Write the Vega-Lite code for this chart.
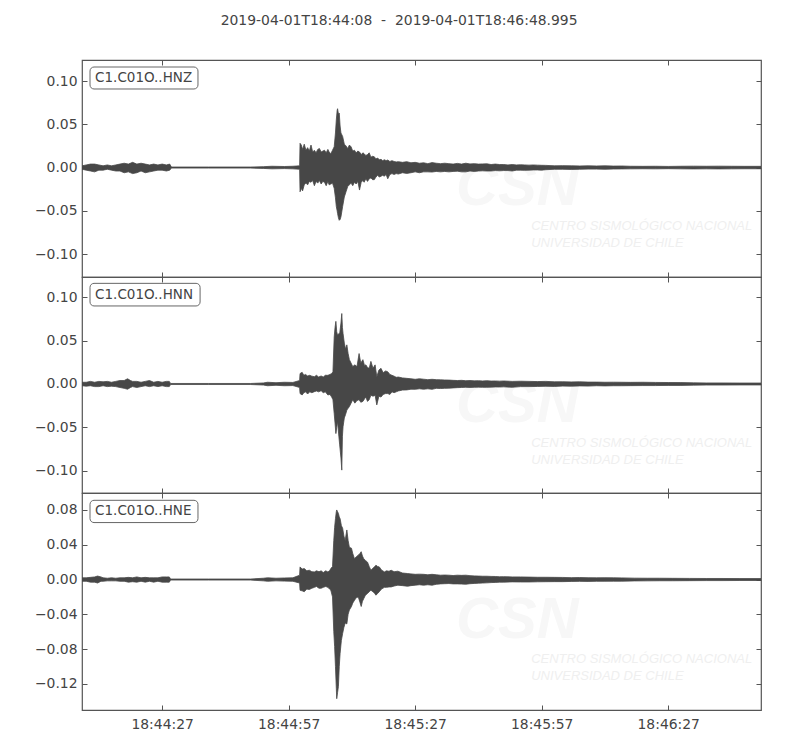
{
  "$schema": "https://vega.github.io/schema/vega-lite/v6.json",
  "title": {"text": "2019-04-01T18:44:08 \u00a0-\u00a0 2019-04-01T18:46:48.995", "frame": "bounds", "anchor": "middle", "fontSize": 13.9, "fontWeight": "normal", "color": "#444", "font": "DejaVu Sans", "offset": 31},
  "padding": {"left": 33, "top": 14, "right": 5, "bottom": 5},
  "datasets": {
    "z": [
      {"t":0,"hi":0.002,"lo":-0.002},{"t":1,"hi":0.003,"lo":-0.003},{"t":2,"hi":0.004,"lo":-0.004},{"t":3,"hi":0.004,"lo":-0.005},{"t":4,"hi":0.003,"lo":-0.003},{"t":5,"hi":0.002,"lo":-0.003},{"t":6,"hi":0.003,"lo":-0.002},{"t":7,"hi":0.002,"lo":-0.003},{"t":8,"hi":0.003,"lo":-0.004},{"t":9,"hi":0.004,"lo":-0.004},{"t":10,"hi":0.005,"lo":-0.006},{"t":11,"hi":0.004,"lo":-0.005},{"t":12,"hi":0.006,"lo":-0.007},{"t":13,"hi":0.004,"lo":-0.006},{"t":14,"hi":0.005,"lo":-0.004},{"t":15,"hi":0.004,"lo":-0.006},{"t":16,"hi":0.003,"lo":-0.005},{"t":17,"hi":0.004,"lo":-0.004},{"t":18,"hi":0.003,"lo":-0.003},{"t":19,"hi":0.004,"lo":-0.003},{"t":20,"hi":0.003,"lo":-0.004},{"t":20.8,"hi":0.004,"lo":-0.003},
      {"t":21.2,"hi":0.0006,"lo":-0.0006},{"t":30,"hi":0.0006,"lo":-0.0006},{"t":40,"hi":0.0006,"lo":-0.0006},{"t":43,"hi":0.001,"lo":-0.001},{"t":45,"hi":0.0015,"lo":-0.0015},{"t":48,"hi":0.0012,"lo":-0.0012},{"t":50,"hi":0.0015,"lo":-0.0015},{"t":51.6,"hi":0.002,"lo":-0.002},
      {"t":51.7,"hi":0.028,"lo":-0.028},{"t":52.0,"hi":0.026,"lo":-0.024},{"t":52.3,"hi":0.021,"lo":-0.027},{"t":52.7,"hi":0.027,"lo":-0.020},{"t":53.1,"hi":0.020,"lo":-0.018},{"t":53.5,"hi":0.023,"lo":-0.020},{"t":53.9,"hi":0.019,"lo":-0.016},{"t":54.3,"hi":0.026,"lo":-0.017},{"t":54.7,"hi":0.018,"lo":-0.015},{"t":55.1,"hi":0.020,"lo":-0.021},{"t":55.5,"hi":0.017,"lo":-0.016},{"t":55.9,"hi":0.021,"lo":-0.018},{"t":56.3,"hi":0.022,"lo":-0.015},{"t":56.7,"hi":0.018,"lo":-0.019},{"t":57.1,"hi":0.019,"lo":-0.016},{"t":57.5,"hi":0.020,"lo":-0.017},{"t":57.9,"hi":0.017,"lo":-0.021},{"t":58.3,"hi":0.021,"lo":-0.016},{"t":58.6,"hi":0.018,"lo":-0.020},{"t":59.0,"hi":0.016,"lo":-0.019},{"t":59.4,"hi":0.020,"lo":-0.018},{"t":59.8,"hi":0.024,"lo":-0.024},
      {"t":60.1,"hi":0.040,"lo":-0.035},{"t":60.3,"hi":0.055,"lo":-0.045},{"t":60.5,"hi":0.066,"lo":-0.050},{"t":60.6,"hi":0.068,"lo":-0.053},{"t":60.8,"hi":0.062,"lo":-0.058},{"t":61.0,"hi":0.063,"lo":-0.061},{"t":61.2,"hi":0.048,"lo":-0.060},{"t":61.4,"hi":0.040,"lo":-0.057},{"t":61.8,"hi":0.036,"lo":-0.045},{"t":62.2,"hi":0.027,"lo":-0.034},{"t":62.6,"hi":0.025,"lo":-0.028},{"t":63.0,"hi":0.022,"lo":-0.022},{"t":63.4,"hi":0.026,"lo":-0.020},{"t":63.8,"hi":0.024,"lo":-0.018},{"t":64.2,"hi":0.019,"lo":-0.021},{"t":64.6,"hi":0.020,"lo":-0.017},{"t":65.0,"hi":0.017,"lo":-0.019},{"t":65.4,"hi":0.019,"lo":-0.016},{"t":65.8,"hi":0.018,"lo":-0.026},{"t":66.2,"hi":0.015,"lo":-0.017},{"t":66.6,"hi":0.017,"lo":-0.015},{"t":66.9,"hi":0.016,"lo":-0.017},{"t":67.3,"hi":0.014,"lo":-0.013},{"t":67.7,"hi":0.015,"lo":-0.016},{"t":68.1,"hi":0.017,"lo":-0.013},{"t":68.5,"hi":0.012,"lo":-0.012},{"t":68.9,"hi":0.013,"lo":-0.014},{"t":69.3,"hi":0.0125,"lo":-0.014},{"t":69.7,"hi":0.010,"lo":-0.011},{"t":70.1,"hi":0.011,"lo":-0.009},{"t":70.5,"hi":0.009,"lo":-0.011},{"t":70.9,"hi":0.0095,"lo":-0.010},{"t":71.3,"hi":0.008,"lo":-0.009},{"t":71.7,"hi":0.009,"lo":-0.010},{"t":72.1,"hi":0.008,"lo":-0.008},{"t":72.5,"hi":0.0087,"lo":-0.013},{"t":73.0,"hi":0.007,"lo":-0.008},{"t":73.5,"hi":0.008,"lo":-0.007},{"t":74.0,"hi":0.007,"lo":-0.008},{"t":74.5,"hi":0.0065,"lo":-0.007},{"t":75,"hi":0.0068,"lo":-0.0075},
      {"t":76,"hi":0.006,"lo":-0.006},{"t":77,"hi":0.0068,"lo":-0.0068},{"t":78,"hi":0.0055,"lo":-0.006},{"t":79,"hi":0.006,"lo":-0.005},{"t":80,"hi":0.005,"lo":-0.006},{"t":81,"hi":0.0055,"lo":-0.005},{"t":82,"hi":0.0045,"lo":-0.005},{"t":83,"hi":0.0057,"lo":-0.0052},{"t":84,"hi":0.005,"lo":-0.0045},{"t":85,"hi":0.0045,"lo":-0.005},{"t":86,"hi":0.005,"lo":-0.0045},{"t":87,"hi":0.0045,"lo":-0.005},{"t":88,"hi":0.004,"lo":-0.0045},{"t":89,"hi":0.0048,"lo":-0.0042},{"t":90,"hi":0.004,"lo":-0.005},{"t":91,"hi":0.005,"lo":-0.005},{"t":92,"hi":0.0042,"lo":-0.004},{"t":93,"hi":0.0045,"lo":-0.0045},{"t":94,"hi":0.004,"lo":-0.004},{"t":95,"hi":0.0042,"lo":-0.0038},{"t":96,"hi":0.0043,"lo":-0.004},{"t":97,"hi":0.0035,"lo":-0.004},{"t":98,"hi":0.004,"lo":-0.0035},{"t":99,"hi":0.0035,"lo":-0.0038},{"t":100,"hi":0.0035,"lo":-0.0035},{"t":101,"hi":0.003,"lo":-0.0035},{"t":102,"hi":0.0035,"lo":-0.004},{"t":103,"hi":0.003,"lo":-0.003},{"t":104,"hi":0.0032,"lo":-0.003},{"t":105,"hi":0.003,"lo":-0.0032},{"t":106,"hi":0.0028,"lo":-0.003},{"t":107,"hi":0.003,"lo":-0.0028},{"t":108,"hi":0.0028,"lo":-0.0028},{"t":109,"hi":0.0026,"lo":-0.003},{"t":110,"hi":0.0025,"lo":-0.0025},
      {"t":112,"hi":0.002,"lo":-0.002},{"t":114,"hi":0.0022,"lo":-0.002},{"t":116,"hi":0.002,"lo":-0.0022},{"t":118,"hi":0.0018,"lo":-0.002},{"t":120,"hi":0.002,"lo":-0.0018},{"t":122,"hi":0.0018,"lo":-0.0018},{"t":124,"hi":0.002,"lo":-0.002},{"t":126,"hi":0.0017,"lo":-0.0017},{"t":128,"hi":0.0018,"lo":-0.0016},{"t":130,"hi":0.0015,"lo":-0.0015},{"t":133,"hi":0.0014,"lo":-0.0014},{"t":136,"hi":0.0015,"lo":-0.0015},{"t":139,"hi":0.0013,"lo":-0.0013},{"t":142,"hi":0.0015,"lo":-0.0015},{"t":145,"hi":0.0016,"lo":-0.0016},{"t":148,"hi":0.0015,"lo":-0.0015},{"t":151,"hi":0.0016,"lo":-0.0016},{"t":154,"hi":0.0015,"lo":-0.0015},{"t":157,"hi":0.0014,"lo":-0.0014},{"t":161,"hi":0.0014,"lo":-0.0014}
    ],
    "n": [
      {"t":0,"hi":0.002,"lo":-0.002},{"t":1,"hi":0.002,"lo":-0.0025},{"t":2,"hi":0.003,"lo":-0.002},{"t":3,"hi":0.002,"lo":-0.003},{"t":4,"hi":0.003,"lo":-0.003},{"t":5,"hi":0.0025,"lo":-0.002},{"t":6,"hi":0.003,"lo":-0.003},{"t":7,"hi":0.002,"lo":-0.0025},{"t":8,"hi":0.003,"lo":-0.003},{"t":9,"hi":0.004,"lo":-0.004},{"t":10,"hi":0.004,"lo":-0.005},{"t":10.8,"hi":0.006,"lo":-0.006},{"t":11.5,"hi":0.004,"lo":-0.004},{"t":12,"hi":0.003,"lo":-0.003},{"t":13,"hi":0.003,"lo":-0.004},{"t":14,"hi":0.002,"lo":-0.003},{"t":15,"hi":0.003,"lo":-0.002},{"t":16,"hi":0.004,"lo":-0.003},{"t":17,"hi":0.002,"lo":-0.002},{"t":18,"hi":0.003,"lo":-0.003},{"t":19,"hi":0.002,"lo":-0.002},{"t":20,"hi":0.003,"lo":-0.003},{"t":20.7,"hi":0.003,"lo":-0.003},
      {"t":21,"hi":0.0006,"lo":-0.0006},{"t":30,"hi":0.0006,"lo":-0.0006},{"t":40,"hi":0.0006,"lo":-0.0006},{"t":43,"hi":0.0012,"lo":-0.0012},{"t":44,"hi":0.002,"lo":-0.002},{"t":46,"hi":0.0015,"lo":-0.0015},{"t":48,"hi":0.002,"lo":-0.002},{"t":50,"hi":0.0018,"lo":-0.0018},{"t":51.6,"hi":0.004,"lo":-0.004},
      {"t":51.7,"hi":0.012,"lo":-0.011},{"t":52.2,"hi":0.0134,"lo":-0.0126},{"t":52.6,"hi":0.010,"lo":-0.010},{"t":53.0,"hi":0.011,"lo":-0.009},{"t":53.5,"hi":0.0092,"lo":-0.0115},{"t":54.0,"hi":0.010,"lo":-0.009},{"t":54.5,"hi":0.009,"lo":-0.010},{"t":55.1,"hi":0.0084,"lo":-0.0088},{"t":55.6,"hi":0.010,"lo":-0.008},{"t":56.1,"hi":0.008,"lo":-0.009},{"t":56.7,"hi":0.0092,"lo":-0.0077},{"t":57.2,"hi":0.008,"lo":-0.010},{"t":57.7,"hi":0.010,"lo":-0.009},{"t":58.3,"hi":0.010,"lo":-0.0126},{"t":58.8,"hi":0.011,"lo":-0.012},{"t":59.2,"hi":0.012,"lo":-0.015},{"t":59.5,"hi":0.014,"lo":-0.018},
      {"t":59.8,"hi":0.054,"lo":-0.034},{"t":60.0,"hi":0.065,"lo":-0.045},{"t":60.2,"hi":0.072,"lo":-0.057},{"t":60.4,"hi":0.060,"lo":-0.050},{"t":60.6,"hi":0.056,"lo":-0.043},{"t":60.9,"hi":0.058,"lo":-0.060},{"t":61.1,"hi":0.058,"lo":-0.070},{"t":61.4,"hi":0.070,"lo":-0.085},{"t":61.6,"hi":0.081,"lo":-0.099},{"t":61.75,"hi":0.065,"lo":-0.060},{"t":61.9,"hi":0.058,"lo":-0.049},{"t":62.2,"hi":0.047,"lo":-0.039},{"t":62.5,"hi":0.040,"lo":-0.035},{"t":62.8,"hi":0.045,"lo":-0.030},{"t":63.1,"hi":0.035,"lo":-0.028},{"t":63.4,"hi":0.028,"lo":-0.026},{"t":63.8,"hi":0.024,"lo":-0.022},{"t":64.2,"hi":0.020,"lo":-0.018},{"t":64.7,"hi":0.022,"lo":-0.022},{"t":65.2,"hi":0.020,"lo":-0.019},{"t":65.7,"hi":0.035,"lo":-0.018},{"t":66.1,"hi":0.024,"lo":-0.021},{"t":66.6,"hi":0.028,"lo":-0.020},{"t":67.0,"hi":0.021,"lo":-0.017},{"t":67.3,"hi":0.022,"lo":-0.015},{"t":67.7,"hi":0.019,"lo":-0.020},{"t":68.1,"hi":0.018,"lo":-0.018},{"t":68.5,"hi":0.026,"lo":-0.013},{"t":69.0,"hi":0.018,"lo":-0.014},{"t":69.5,"hi":0.022,"lo":-0.013},{"t":69.9,"hi":0.0084,"lo":-0.024},{"t":70.4,"hi":0.016,"lo":-0.014},{"t":70.9,"hi":0.018,"lo":-0.015},{"t":71.4,"hi":0.013,"lo":-0.012},{"t":72.0,"hi":0.015,"lo":-0.011},{"t":72.5,"hi":0.014,"lo":-0.011},{"t":73.0,"hi":0.011,"lo":-0.012},{"t":73.5,"hi":0.010,"lo":-0.009},{"t":74.0,"hi":0.009,"lo":-0.010},{"t":74.5,"hi":0.0077,"lo":-0.009},{"t":75,"hi":0.008,"lo":-0.008},
      {"t":76,"hi":0.007,"lo":-0.007},{"t":77,"hi":0.0065,"lo":-0.0068},{"t":78,"hi":0.006,"lo":-0.006},{"t":79,"hi":0.0054,"lo":-0.0061},{"t":80,"hi":0.006,"lo":-0.0055},{"t":81,"hi":0.0055,"lo":-0.006},{"t":82,"hi":0.005,"lo":-0.0055},{"t":83,"hi":0.0054,"lo":-0.0061},{"t":84,"hi":0.005,"lo":-0.005},{"t":85,"hi":0.0048,"lo":-0.0052},{"t":86,"hi":0.0046,"lo":-0.005},{"t":87,"hi":0.0045,"lo":-0.0048},{"t":88,"hi":0.0042,"lo":-0.0045},{"t":89,"hi":0.004,"lo":-0.0042},{"t":90,"hi":0.0042,"lo":-0.004},{"t":91,"hi":0.0038,"lo":-0.0038},{"t":92,"hi":0.004,"lo":-0.004},{"t":93,"hi":0.0036,"lo":-0.0038},{"t":94,"hi":0.0038,"lo":-0.0036},{"t":95,"hi":0.0035,"lo":-0.0038},{"t":96,"hi":0.0038,"lo":-0.0038},{"t":97,"hi":0.0034,"lo":-0.0036},{"t":98,"hi":0.0035,"lo":-0.0034},{"t":99,"hi":0.0033,"lo":-0.0035},{"t":100,"hi":0.0035,"lo":-0.0033},
      {"t":102,"hi":0.003,"lo":-0.0038},{"t":104,"hi":0.0032,"lo":-0.003},{"t":106,"hi":0.003,"lo":-0.003},{"t":108,"hi":0.0028,"lo":-0.0028},{"t":110,"hi":0.003,"lo":-0.0026},{"t":112,"hi":0.0025,"lo":-0.0028},{"t":114,"hi":0.0026,"lo":-0.0024},{"t":116,"hi":0.0024,"lo":-0.0025},{"t":118,"hi":0.0025,"lo":-0.0022},{"t":120,"hi":0.0022,"lo":-0.0024},{"t":122,"hi":0.0022,"lo":-0.002},{"t":124,"hi":0.002,"lo":-0.0022},{"t":126,"hi":0.0021,"lo":-0.002},{"t":128,"hi":0.002,"lo":-0.002},{"t":130,"hi":0.0019,"lo":-0.0019},{"t":133,"hi":0.002,"lo":-0.0018},{"t":136,"hi":0.0018,"lo":-0.0018},{"t":139,"hi":0.0017,"lo":-0.0016},{"t":142,"hi":0.0016,"lo":-0.0016},{"t":145,"hi":0.0013,"lo":-0.0013},{"t":148,"hi":0.0012,"lo":-0.0012},{"t":152,"hi":0.0012,"lo":-0.0012},{"t":156,"hi":0.0011,"lo":-0.0011},{"t":161,"hi":0.0011,"lo":-0.0011}
    ],
    "e": [
      {"t":0,"hi":0.002,"lo":-0.002},{"t":1,"hi":0.002,"lo":-0.002},{"t":2,"hi":0.0025,"lo":-0.003},{"t":3,"hi":0.003,"lo":-0.003},{"t":3.7,"hi":0.004,"lo":-0.004},{"t":4.5,"hi":0.003,"lo":-0.002},{"t":5,"hi":0.002,"lo":-0.002},{"t":6,"hi":0.0015,"lo":-0.0015},{"t":7,"hi":0.002,"lo":-0.0015},{"t":8,"hi":0.0015,"lo":-0.0015},{"t":9,"hi":0.002,"lo":-0.002},{"t":10,"hi":0.002,"lo":-0.002},{"t":11,"hi":0.0025,"lo":-0.003},{"t":12,"hi":0.002,"lo":-0.0025},{"t":13,"hi":0.003,"lo":-0.003},{"t":14,"hi":0.002,"lo":-0.002},{"t":15,"hi":0.0025,"lo":-0.003},{"t":16,"hi":0.002,"lo":-0.002},{"t":17,"hi":0.002,"lo":-0.003},{"t":18,"hi":0.002,"lo":-0.002},{"t":19,"hi":0.003,"lo":-0.003},{"t":20,"hi":0.003,"lo":-0.003},{"t":20.7,"hi":0.003,"lo":-0.003},
      {"t":21,"hi":0.0006,"lo":-0.0006},{"t":30,"hi":0.0006,"lo":-0.0006},{"t":40,"hi":0.0006,"lo":-0.0006},{"t":43,"hi":0.0015,"lo":-0.0015},{"t":44,"hi":0.002,"lo":-0.002},{"t":46,"hi":0.0015,"lo":-0.0015},{"t":48,"hi":0.0018,"lo":-0.0018},{"t":50,"hi":0.002,"lo":-0.002},{"t":51.6,"hi":0.005,"lo":-0.004},
      {"t":51.7,"hi":0.0145,"lo":-0.0123},{"t":52.2,"hi":0.012,"lo":-0.013},{"t":52.7,"hi":0.0126,"lo":-0.014},{"t":53.3,"hi":0.010,"lo":-0.011},{"t":53.9,"hi":0.0107,"lo":-0.0115},{"t":54.5,"hi":0.009,"lo":-0.010},{"t":55.1,"hi":0.0088,"lo":-0.009},{"t":55.6,"hi":0.010,"lo":-0.008},{"t":56.2,"hi":0.009,"lo":-0.010},{"t":56.7,"hi":0.010,"lo":-0.010},{"t":57.2,"hi":0.008,"lo":-0.009},{"t":57.8,"hi":0.010,"lo":-0.008},{"t":58.3,"hi":0.0088,"lo":-0.009},{"t":58.7,"hi":0.010,"lo":-0.011},{"t":59.0,"hi":0.0126,"lo":-0.0123},{"t":59.4,"hi":0.015,"lo":-0.020},
      {"t":59.7,"hi":0.045,"lo":-0.060},{"t":59.9,"hi":0.060,"lo":-0.077},{"t":60.1,"hi":0.070,"lo":-0.100},{"t":60.3,"hi":0.078,"lo":-0.125},{"t":60.4,"hi":0.080,"lo":-0.137},{"t":60.6,"hi":0.078,"lo":-0.130},{"t":60.8,"hi":0.076,"lo":-0.123},{"t":61.0,"hi":0.072,"lo":-0.100},{"t":61.2,"hi":0.070,"lo":-0.085},{"t":61.5,"hi":0.062,"lo":-0.070},{"t":61.8,"hi":0.059,"lo":-0.062},{"t":62.1,"hi":0.050,"lo":-0.055},{"t":62.4,"hi":0.045,"lo":-0.050},{"t":62.8,"hi":0.057,"lo":-0.051},{"t":63.1,"hi":0.045,"lo":-0.040},{"t":63.4,"hi":0.037,"lo":-0.035},{"t":63.9,"hi":0.036,"lo":-0.031},{"t":64.2,"hi":0.030,"lo":-0.027},{"t":64.6,"hi":0.024,"lo":-0.024},{"t":65.0,"hi":0.026,"lo":-0.021},{"t":65.5,"hi":0.028,"lo":-0.020},{"t":65.9,"hi":0.030,"lo":-0.026},{"t":66.2,"hi":0.032,"lo":-0.031},{"t":66.5,"hi":0.027,"lo":-0.025},{"t":66.8,"hi":0.024,"lo":-0.022},{"t":67.2,"hi":0.022,"lo":-0.018},{"t":67.7,"hi":0.020,"lo":-0.016},{"t":68.1,"hi":0.015,"lo":-0.014},{"t":68.5,"hi":0.0107,"lo":-0.0123},{"t":69.0,"hi":0.013,"lo":-0.014},{"t":69.4,"hi":0.015,"lo":-0.016},{"t":69.7,"hi":0.0165,"lo":-0.018},{"t":70.1,"hi":0.015,"lo":-0.016},{"t":70.5,"hi":0.0145,"lo":-0.014},{"t":71.0,"hi":0.011,"lo":-0.011},{"t":71.7,"hi":0.0088,"lo":-0.009},{"t":72.2,"hi":0.010,"lo":-0.009},{"t":72.8,"hi":0.0095,"lo":-0.0085},{"t":73.3,"hi":0.0107,"lo":-0.0085},{"t":74.0,"hi":0.009,"lo":-0.0075},{"t":74.9,"hi":0.0096,"lo":-0.0065},
      {"t":76,"hi":0.0075,"lo":-0.007},{"t":77.2,"hi":0.0069,"lo":-0.0077},{"t":78,"hi":0.0065,"lo":-0.007},{"t":79,"hi":0.006,"lo":-0.0065},{"t":80,"hi":0.0062,"lo":-0.006},{"t":81,"hi":0.006,"lo":-0.0065},{"t":82,"hi":0.0055,"lo":-0.006},{"t":83,"hi":0.006,"lo":-0.0065},{"t":84,"hi":0.0055,"lo":-0.0055},{"t":85,"hi":0.005,"lo":-0.005},{"t":86,"hi":0.0052,"lo":-0.0048},{"t":87,"hi":0.005,"lo":-0.0046},{"t":88,"hi":0.0046,"lo":-0.005},{"t":89,"hi":0.005,"lo":-0.005},{"t":90,"hi":0.0048,"lo":-0.0052},{"t":91,"hi":0.005,"lo":-0.0054},{"t":92,"hi":0.0045,"lo":-0.0048},{"t":93,"hi":0.0042,"lo":-0.0045},{"t":94,"hi":0.004,"lo":-0.0042},{"t":95,"hi":0.0038,"lo":-0.004},{"t":96,"hi":0.0038,"lo":-0.0038},{"t":97,"hi":0.0036,"lo":-0.0035},{"t":98,"hi":0.0035,"lo":-0.0033},{"t":99,"hi":0.0032,"lo":-0.003},{"t":100,"hi":0.0033,"lo":-0.003},
      {"t":102,"hi":0.003,"lo":-0.0027},{"t":104,"hi":0.003,"lo":-0.0028},{"t":106,"hi":0.0028,"lo":-0.0028},{"t":108,"hi":0.0026,"lo":-0.0026},{"t":110,"hi":0.0026,"lo":-0.0025},{"t":112,"hi":0.0025,"lo":-0.0024},{"t":114,"hi":0.0024,"lo":-0.0024},{"t":116,"hi":0.0022,"lo":-0.0022},{"t":118,"hi":0.0023,"lo":-0.0021},{"t":120,"hi":0.0021,"lo":-0.0022},{"t":122,"hi":0.002,"lo":-0.002},{"t":124,"hi":0.0021,"lo":-0.002},{"t":126,"hi":0.002,"lo":-0.0019},{"t":128,"hi":0.0019,"lo":-0.0019},{"t":131,"hi":0.0016,"lo":-0.0016},{"t":134,"hi":0.0015,"lo":-0.0015},{"t":137,"hi":0.0015,"lo":-0.0014},{"t":140,"hi":0.0014,"lo":-0.0014},{"t":144,"hi":0.0013,"lo":-0.0013},{"t":148,"hi":0.0012,"lo":-0.0012},{"t":152,"hi":0.0012,"lo":-0.0012},{"t":156,"hi":0.0011,"lo":-0.0011},{"t":161,"hi":0.0011,"lo":-0.0011}
    ]
  },
  "spacing": 0,
  "bounds": "flush",
  "vconcat": [
    {
      "width": 679, "height": 217,
      "layer": [
        {"data": {"values": [{}]}, "mark": {"type": "text", "text": "CSN", "font": "Liberation Sans", "fontSize": 58, "fontStyle": "italic", "fontWeight": "bold", "align": "left", "baseline": "alphabetic", "color": "#f7f7f7"},
         "encoding": {"x": {"datum": 88.7, "type": "quantitative", "axis": null}, "y": {"datum": -0.0434, "type": "quantitative", "axis": null}}},
        {"data": {"values": [{}]}, "mark": {"type": "text", "text": "CENTRO SISMOLÓGICO NACIONAL", "font": "Liberation Sans", "fontSize": 13, "fontStyle": "italic", "align": "left", "baseline": "alphabetic", "color": "#efefef"},
         "encoding": {"x": {"datum": 106.5, "type": "quantitative", "axis": null}, "y": {"datum": -0.0723, "type": "quantitative", "axis": null}}},
        {"data": {"values": [{}]}, "mark": {"type": "text", "text": "UNIVERSIDAD DE CHILE", "font": "Liberation Sans", "fontSize": 13, "fontStyle": "italic", "align": "left", "baseline": "alphabetic", "color": "#efefef"},
         "encoding": {"x": {"datum": 106.5, "type": "quantitative", "axis": null}, "y": {"datum": -0.0919, "type": "quantitative", "axis": null}}},
        {"data": {"name": "z"}, "mark": {"type": "area", "color": "#474747", "stroke": "#474747", "strokeWidth": 0.8, "clip": true},
         "encoding": {
           "x": {"field": "t", "type": "quantitative", "title": null, "scale": {"domain": [0, 161], "nice": false, "zero": false}, "axis": {"orient": "bottom", "values": [19, 49, 79, 109, 139], "labels": false}},
           "y": {"field": "hi", "type": "quantitative", "title": null, "scale": {"domain": [-0.1265, 0.1243], "nice": false, "zero": false}, "axis": {"orient": "left", "values": [-0.1, -0.05, 0, 0.05, 0.1], "format": ".2f"}},
           "y2": {"field": "lo"}
         }},
        {"data": {"values": [{}]}, "mark": {"type": "rect", "fill": "white", "stroke": "#666", "strokeWidth": 1, "cornerRadius": 4},
         "encoding": {"x": {"datum": 1.9, "type": "quantitative", "axis": null}, "x2": {"datum": 27.5}, "y": {"datum": 0.1162, "type": "quantitative", "axis": null}, "y2": {"datum": 0.0908}}},
        {"data": {"values": [{}]}, "mark": {"type": "text", "text": "C1.C01O..HNZ", "font": "DejaVu Sans", "fontSize": 13.5, "align": "left", "baseline": "middle", "color": "#444"},
         "encoding": {"x": {"datum": 3.1, "type": "quantitative", "axis": null}, "y": {"datum": 0.1035, "type": "quantitative", "axis": null}}},
        {"data": {"name": "z"}, "mark": {"type": "point", "opacity": 0},
         "encoding": {
           "x": {"field": "t", "type": "quantitative", "title": null, "axis": {"orient": "top", "values": [19, 49, 79, 109, 139], "labels": false}},
           "y": {"field": "hi", "type": "quantitative", "title": null, "axis": {"orient": "right", "values": [-0.1, -0.05, 0, 0.05, 0.1], "labels": false}}
         }}
      ],
      "resolve": {"axis": {"x": "independent", "y": "independent"}}
    },
    {
      "width": 679, "height": 216,
      "layer": [
        {"data": {"values": [{}]}, "mark": {"type": "text", "text": "CSN", "font": "Liberation Sans", "fontSize": 58, "fontStyle": "italic", "fontWeight": "bold", "align": "left", "baseline": "alphabetic", "color": "#f7f7f7"},
         "encoding": {"x": {"datum": 88.7, "type": "quantitative", "axis": null}, "y": {"datum": -0.0437, "type": "quantitative", "axis": null}}},
        {"data": {"values": [{}]}, "mark": {"type": "text", "text": "CENTRO SISMOLÓGICO NACIONAL", "font": "Liberation Sans", "fontSize": 13, "fontStyle": "italic", "align": "left", "baseline": "alphabetic", "color": "#efefef"},
         "encoding": {"x": {"datum": 106.5, "type": "quantitative", "axis": null}, "y": {"datum": -0.0724, "type": "quantitative", "axis": null}}},
        {"data": {"values": [{}]}, "mark": {"type": "text", "text": "UNIVERSIDAD DE CHILE", "font": "Liberation Sans", "fontSize": 13, "fontStyle": "italic", "align": "left", "baseline": "alphabetic", "color": "#efefef"},
         "encoding": {"x": {"datum": 106.5, "type": "quantitative", "axis": null}, "y": {"datum": -0.092, "type": "quantitative", "axis": null}}},
        {"data": {"name": "n"}, "mark": {"type": "area", "color": "#474747", "stroke": "#474747", "strokeWidth": 0.8, "clip": true},
         "encoding": {
           "x": {"field": "t", "type": "quantitative", "title": null, "scale": {"domain": [0, 161], "nice": false, "zero": false}, "axis": {"orient": "bottom", "values": [19, 49, 79, 109, 139], "labels": false}},
           "y": {"field": "hi", "type": "quantitative", "title": null, "scale": {"domain": [-0.1253, 0.123], "nice": false, "zero": false}, "axis": {"orient": "left", "values": [-0.1, -0.05, 0, 0.05, 0.1], "format": ".2f"}},
           "y2": {"field": "lo"}
         }},
        {"data": {"values": [{}]}, "mark": {"type": "rect", "fill": "white", "stroke": "#666", "strokeWidth": 1, "cornerRadius": 4},
         "encoding": {"x": {"datum": 1.9, "type": "quantitative", "axis": null}, "x2": {"datum": 28.0}, "y": {"datum": 0.1157, "type": "quantitative", "axis": null}, "y2": {"datum": 0.0897}}},
        {"data": {"values": [{}]}, "mark": {"type": "text", "text": "C1.C01O..HNN", "font": "DejaVu Sans", "fontSize": 13.5, "align": "left", "baseline": "middle", "color": "#444"},
         "encoding": {"x": {"datum": 3.1, "type": "quantitative", "axis": null}, "y": {"datum": 0.1027, "type": "quantitative", "axis": null}}},
        {"data": {"name": "n"}, "mark": {"type": "point", "opacity": 0},
         "encoding": {
           "x": {"field": "t", "type": "quantitative", "title": null, "axis": {"orient": "top", "values": [19, 49, 79, 109, 139], "labels": false}},
           "y": {"field": "hi", "type": "quantitative", "title": null, "axis": {"orient": "right", "values": [-0.1, -0.05, 0, 0.05, 0.1], "labels": false}}
         }}
      ],
      "resolve": {"axis": {"x": "independent", "y": "independent"}}
    },
    {
      "width": 679, "height": 217,
      "layer": [
        {"data": {"values": [{}]}, "mark": {"type": "text", "text": "CSN", "font": "Liberation Sans", "fontSize": 58, "fontStyle": "italic", "fontWeight": "bold", "align": "left", "baseline": "alphabetic", "color": "#f7f7f7"},
         "encoding": {"x": {"datum": 88.7, "type": "quantitative", "axis": null}, "y": {"datum": -0.0675, "type": "quantitative", "axis": null}}},
        {"data": {"values": [{}]}, "mark": {"type": "text", "text": "CENTRO SISMOLÓGICO NACIONAL", "font": "Liberation Sans", "fontSize": 13, "fontStyle": "italic", "align": "left", "baseline": "alphabetic", "color": "#efefef"},
         "encoding": {"x": {"datum": 106.5, "type": "quantitative", "axis": null}, "y": {"datum": -0.0962, "type": "quantitative", "axis": null}}},
        {"data": {"values": [{}]}, "mark": {"type": "text", "text": "UNIVERSIDAD DE CHILE", "font": "Liberation Sans", "fontSize": 13, "fontStyle": "italic", "align": "left", "baseline": "alphabetic", "color": "#efefef"},
         "encoding": {"x": {"datum": 106.5, "type": "quantitative", "axis": null}, "y": {"datum": -0.1157, "type": "quantitative", "axis": null}}},
        {"data": {"name": "e"}, "mark": {"type": "area", "color": "#474747", "stroke": "#474747", "strokeWidth": 0.8, "clip": true},
         "encoding": {
           "x": {"field": "t", "type": "quantitative", "title": null, "scale": {"domain": [0, 161], "nice": false, "zero": false}, "axis": {"orient": "bottom", "values": [19, 49, 79, 109, 139], "labelPadding": 12, "labelExpr": "timeFormat(datetime(2019, 3, 1, 18, 44, 8 + datum.value), '%H:%M:%S')"}},
           "y": {"field": "hi", "type": "quantitative", "title": null, "scale": {"domain": [-0.150, 0.0995], "nice": false, "zero": false}, "axis": {"orient": "left", "values": [-0.12, -0.08, -0.04, 0, 0.04, 0.08], "format": ".2f"}},
           "y2": {"field": "lo"}
         }},
        {"data": {"values": [{}]}, "mark": {"type": "rect", "fill": "white", "stroke": "#666", "strokeWidth": 1, "cornerRadius": 4},
         "encoding": {"x": {"datum": 1.9, "type": "quantitative", "axis": null}, "x2": {"datum": 27.5}, "y": {"datum": 0.0911, "type": "quantitative", "axis": null}, "y2": {"datum": 0.0655}}},
        {"data": {"values": [{}]}, "mark": {"type": "text", "text": "C1.C01O..HNE", "font": "DejaVu Sans", "fontSize": 13.5, "align": "left", "baseline": "middle", "color": "#444"},
         "encoding": {"x": {"datum": 3.1, "type": "quantitative", "axis": null}, "y": {"datum": 0.0783, "type": "quantitative", "axis": null}}},
        {"data": {"name": "e"}, "mark": {"type": "point", "opacity": 0},
         "encoding": {
           "x": {"field": "t", "type": "quantitative", "title": null, "axis": {"orient": "top", "values": [19, 49, 79, 109, 139], "labels": false}},
           "y": {"field": "hi", "type": "quantitative", "title": null, "axis": {"orient": "right", "values": [-0.12, -0.08, -0.04, 0, 0.04, 0.08], "labels": false}}
         }}
      ],
      "resolve": {"axis": {"x": "independent", "y": "independent"}}
    }
  ],
  "config": {
    "font": "DejaVu Sans",
    "view": {"stroke": "#555", "strokeWidth": 1.2},
    "axis": {"domain": false, "grid": false, "ticks": true, "tickSize": -5, "tickColor": "#555", "tickWidth": 1, "labelFont": "DejaVu Sans", "labelFontSize": 13.9, "labelColor": "#444", "labelPadding": 10}
  }
}
